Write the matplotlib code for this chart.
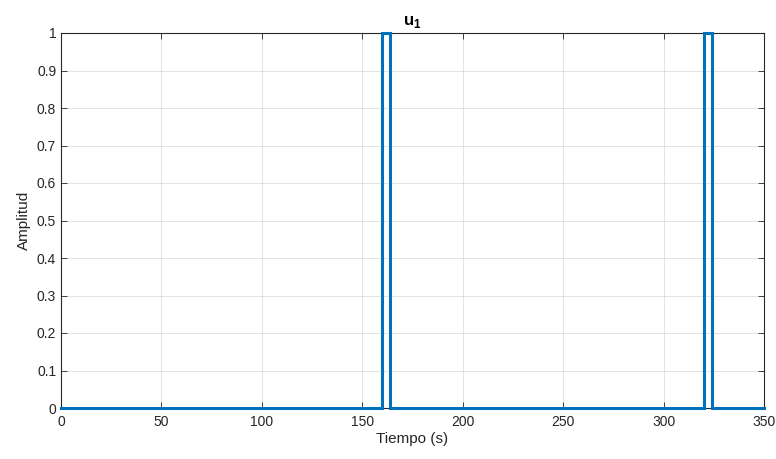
import matplotlib
matplotlib.use("Agg")
import matplotlib.pyplot as plt
import numpy as np

# Pulse signal u1: switching instants (s) and amplitude levels
t = [0, 160, 160, 164, 164, 320, 320, 324, 324, 350]
u = [0, 0, 1, 1, 0, 0, 1, 1, 0, 0]

x_ticks = [0, 50, 100, 150, 200, 250, 300, 350]
y_ticks = [0, 0.1, 0.2, 0.3, 0.4, 0.5, 0.6, 0.7, 0.8, 0.9, 1]
y_tick_labels = ["0", "0.1", "0.2", "0.3", "0.4", "0.5", "0.6", "0.7", "0.8", "0.9", "1"]

plt.rcParams['font.family'] = ['Liberation Sans', 'DejaVu Sans']
plt.rcParams['mathtext.fontset'] = 'custom'
plt.rcParams['mathtext.rm'] = 'Liberation Sans'
plt.rcParams['mathtext.bf'] = 'Liberation Sans:bold'
axis_color = '#262626'

fig = plt.figure(figsize=(7.76, 4.59), dpi=100)
ax = fig.add_axes([61/776, 1 - 408/459, (764-61)/776, (408-33)/459])

ax.plot(t, u, color='#0072BD', linewidth=2.2, solid_joinstyle='miter',
        clip_on=False, zorder=5)

ax.set_xlim(0, 350)
ax.set_ylim(0, 1)
ax.set_xticks(x_ticks)
ax.set_yticks(y_ticks)
ax.set_yticklabels(y_tick_labels)

ax.grid(True, color=axis_color, alpha=0.15, linewidth=0.6)
ax.set_axisbelow(True)
for side in ['top', 'right', 'bottom', 'left']:
    ax.spines[side].set_color(axis_color)
    ax.spines[side].set_linewidth(0.8)
ax.tick_params(direction='in', length=4, width=0.6, colors=axis_color,
               labelsize=10, top=True, right=True, labeltop=False, labelright=False)
ax.tick_params(axis='x', pad=5)

ax.set_xlabel('Tiempo (s)', fontsize=11, color=axis_color, labelpad=2)
ax.set_ylabel('Amplitud', fontsize=11, color=axis_color, labelpad=4)
ax.set_title(r'$\mathbf{u}_\mathbf{1}$', fontsize=12, color='black', pad=6)

fig.savefig('out.png', dpi=100)
